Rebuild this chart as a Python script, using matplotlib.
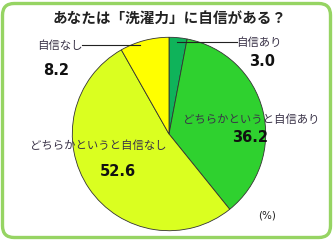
import matplotlib
matplotlib.use("Agg")
import matplotlib.pyplot as plt
from matplotlib.patches import FancyBboxPatch

plt.rcParams["font.family"] = ["Noto Sans CJK JP", "DejaVu Sans"]

title = "あなたは「洗濯力」に自信がある？"
categories = ["自信あり", "どちらかというと自信あり", "どちらかというと自信なし", "自信なし"]
values = [3.0, 36.2, 52.6, 8.2]
value_labels = ["3.0", "36.2", "52.6", "8.2"]
colors = ["#0fb35a", "#2fd12f", "#daff20", "#ffff00"]

W, H = 334, 240
fig = plt.figure(figsize=(W / 100, H / 100), dpi=100)
fig.patch.set_facecolor("white")

# rounded green frame
frame = FancyBboxPatch((2.5 / W, 2.5 / H), (W - 6) / W, (H - 6) / H,
                       boxstyle="round,pad=0,rounding_size=0.035",
                       transform=fig.transFigure, facecolor="none",
                       edgecolor="#96d463", linewidth=2.4, mutation_aspect=W / H,
                       zorder=5)
fig.patches.append(frame)

# pie: center (169, 134), radius 97 in pixels
cx, cy, r = 169, 134, 97
ax = fig.add_axes([(cx - r) / W, (H - cy - r) / H, 2 * r / W, 2 * r / H])
ax.pie(values, colors=colors, startangle=90, counterclock=False,
       wedgeprops=dict(edgecolor="#333333", linewidth=0.6))
ax.set_xlim(-1.003, 1.003)
ax.set_ylim(-1.003, 1.003)
ax.set_aspect("auto")
ax.axis("off")

def px(x, y):
    return x / W, 1 - y / H

fig.text(*px(170, 18), title, ha="center", va="center", fontsize=10.5,
         fontweight="bold", color="#222222")

txt = "#3a3348"
# leader lines
fig.add_artist(plt.Line2D([177 / W, 237 / W], [1 - 42 / H, 1 - 42 / H],
                          color="#222222", linewidth=0.8))
fig.add_artist(plt.Line2D([82 / W, 140 / W], [1 - 45 / H, 1 - 45 / H],
                          color="#222222", linewidth=0.8))

label_pos = [(259, 43), (251, 120), (98, 146), (60, 46)]
value_pos = [(262, 61), (250, 137), (118, 172), (56, 70)]
for cat, (x, y) in zip(categories, label_pos):
    fig.text(*px(x, y), cat, ha="center", va="center", fontsize=8.2, color=txt)
for v, (x, y) in zip(value_labels, value_pos):
    fig.text(*px(x, y), v, ha="center", va="center", fontsize=10.5,
             fontweight="bold", color="#111111", family="DejaVu Sans")

fig.text(*px(267, 216), "(%)", ha="center", va="center", fontsize=7.5,
         color="#222222", family="DejaVu Sans")

fig.savefig("out.png", dpi=100, facecolor="white")
